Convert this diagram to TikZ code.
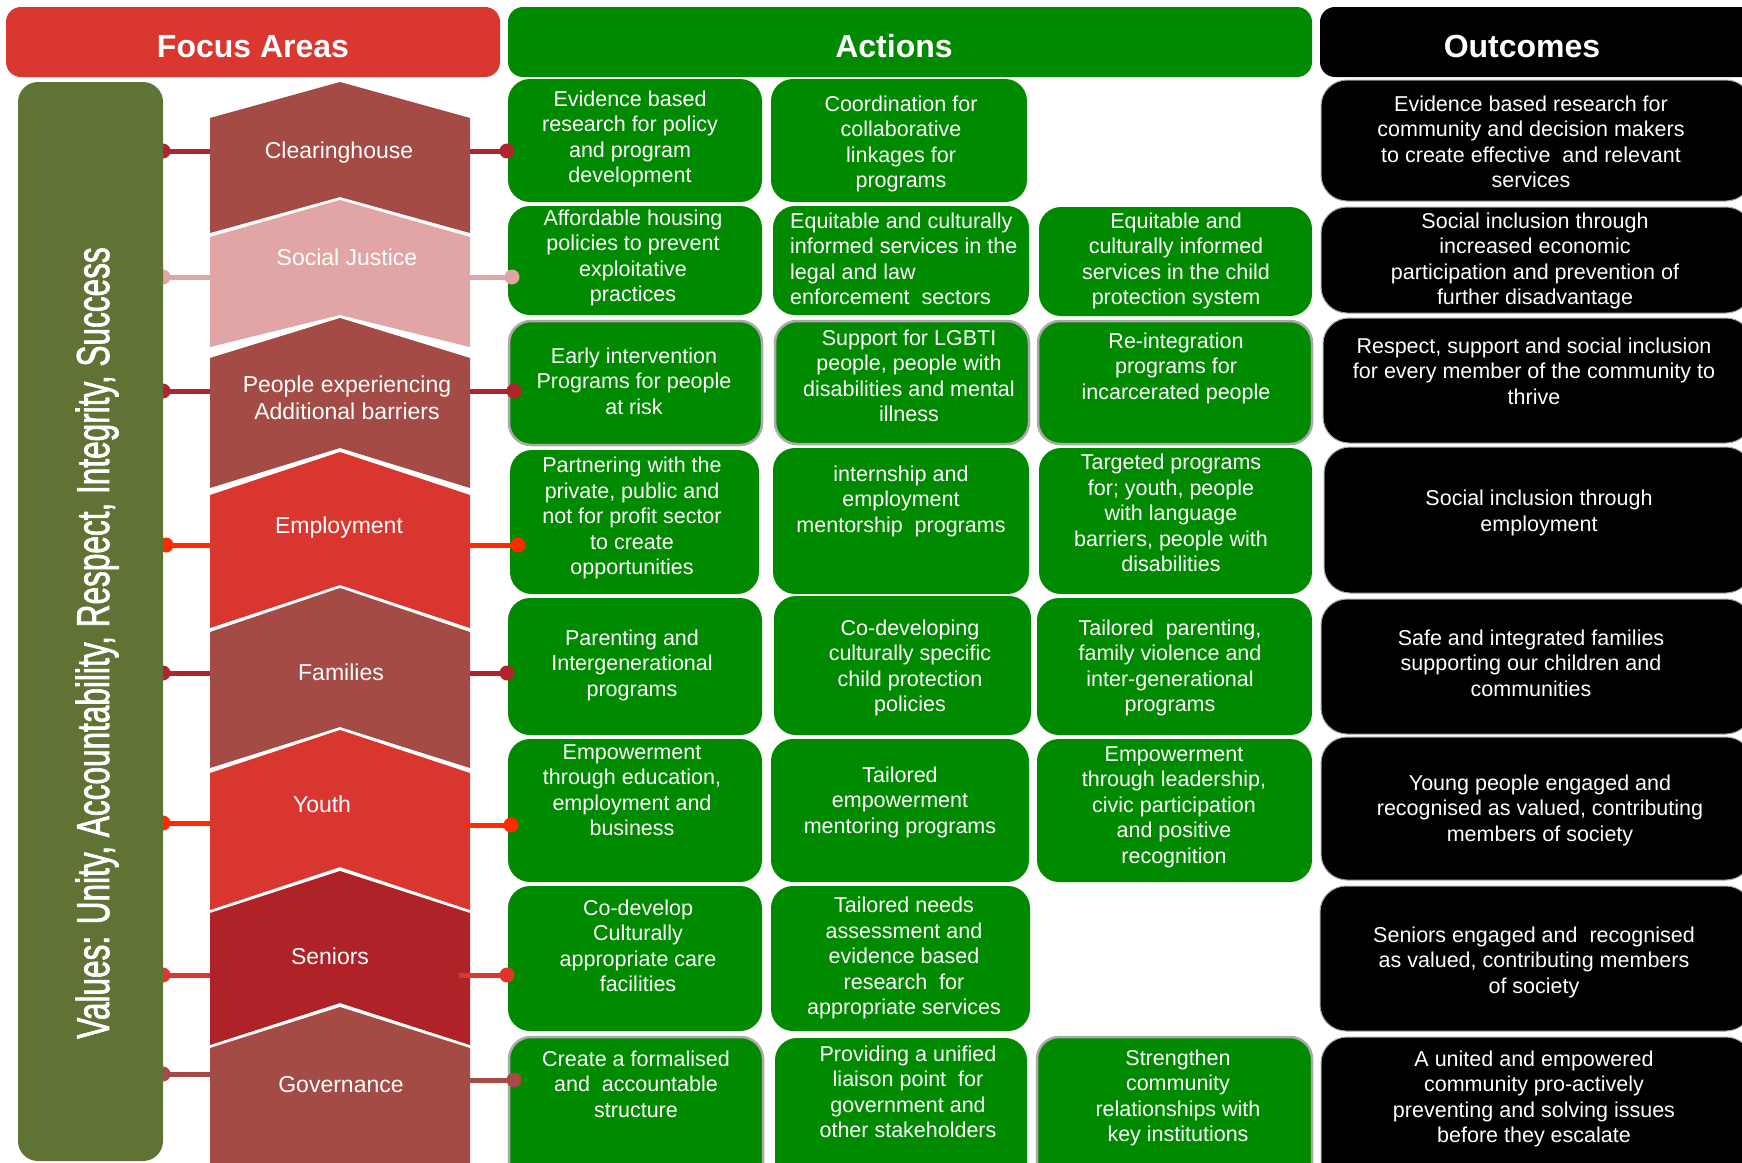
\documentclass[tikz,border=0pt]{standalone}
\usepackage{fontspec}
\setmainfont{Liberation Sans}
\newfontfamily\valfont[FakeBold=2]{Liberation Sans}
\usepackage{graphicx}
\usetikzlibrary{fit}
\definecolor{hred}{RGB}{218,55,48}
\definecolor{agreen}{RGB}{0,138,0}
\definecolor{olive}{RGB}{95,115,52}
\definecolor{chbrown}{RGB}{164,75,69}
\definecolor{chpink}{RGB}{224,165,164}
\definecolor{chred}{RGB}{218,54,48}
\definecolor{chsen}{RGB}{175,34,40}
\definecolor{lndark}{RGB}{176,37,45}
\definecolor{lnbright}{RGB}{255,42,0}
\definecolor{lnsen}{RGB}{224,53,47}
\definecolor{bordergray}{RGB}{170,170,170}
\tikzset{
  hdrbox/.style={rounded corners=15pt, inner sep=0pt},
  hdrtxt/.style={text=white, font=\fontsize{32}{32}\selectfont\bfseries, anchor=base, inner sep=0pt},
  actbox/.style={fill=agreen, rounded corners=22pt, inner sep=0pt},
  actgray/.style={actbox, draw=bordergray, line width=2.5pt},
  outbox/.style={fill=black, draw=black!35, line width=1pt, rounded corners=26pt, inner sep=0pt},
  txt/.style={text=white, align=center, font=\fontsize{21.5}{25.5}\selectfont, inner sep=0pt},
  focustxt/.style={text=white, align=center, font=\fontsize{23}{27}\selectfont, inner sep=0pt},
  conn/.style={line width=5pt},
}
\newcommand\chev[5]{\fill[#1] (210,#3) -- (340,#2) -- (470,#3) -- (470,#5) -- (340,#4) -- (210,#5) -- cycle;}
\begin{document}
\begin{tikzpicture}[x=1pt,y=-1pt]
\useasboundingbox (0,0) rectangle (1742,1162);
\clip (0,0) rectangle (1742,1162);

% left connector segments (behind bar and chevrons)
\foreach \i/\yl/\xl/\col in {1/151/163/lndark,2/277/163/chpink,3/391/163/lndark,4/545/166/lnbright,5/673/163/lndark,6/823/163/lnbright,7/975/163/lnsen,8/1074/163/chbrown}{
  \coordinate (lA\i) at (\xl,\yl);
  \coordinate (lB\i) at (215,\yl);
  \draw[conn, color=\col] (lA\i) -- (lB\i);
  \fill[color=\col] (lA\i) circle (7.5pt);
}

% values bar
\node[fill=olive, rounded corners=20pt, inner sep=0pt, fit={(18,82) (163,1161)}] (valbar) {};
\node[rotate=90, anchor=base, text=white, inner sep=0pt] (values) at (109,643)
  {\scalebox{0.686}[1]{\valfont\fontsize{46}{46}\selectfont Values: Unity, Accountability, Respect, Integrity, Success}};

% chevrons
\chev{chbrown}{82}{118}{197}{233}
\chev{chpink}{200}{237}{315}{347}
\chev{chbrown}{318}{358}{448}{488}
\chev{chred}{452}{495}{585}{628}
\chev{chbrown}{588}{632}{727}{768}
\chev{chred}{730}{773}{867}{910}
\chev{chsen}{871}{913}{1003}{1045}
\chev{chbrown}{1007}{1048}{1200}{1200}

\node[focustxt] (f1) at (339,153) {Clearinghouse};
\node[focustxt] (f2) at (347,257) {Social Justice};
\node[focustxt] (f3) at (347,398) {People experiencing\\Additional barriers};
\node[focustxt] (f4) at (339,528) {Employment};
\node[focustxt] (f5) at (341,672) {Families};
\node[focustxt] (f6) at (322,804) {Youth};
\node[focustxt] (f7) at (330,956) {Seniors};
\node[focustxt] (f8) at (341,1085) {Governance};

% headers
\node[hdrbox, fill=hred, fit={(6,7) (500,77)}] (hfocus) {};
\node[hdrtxt] (hfocust) at (253,57) {Focus Areas};
\node[hdrbox, fill=agreen, fit={(508,7) (1312,77)}] (hact) {};
\node[hdrtxt] (hactt) at (894,57) {Actions};
\node[hdrbox, fill=black, fit={(1320,7) (1760,77)}] (hout) {};
\node[hdrtxt] (houtt) at (1522,57) {Outcomes};

% action boxes
\node[actbox, fit={(508,79) (762,202)}] (r1c1) {};
\node[actbox, fit={(771,79) (1027,202)}] (r1c2) {};
\node[actbox, fit={(508,206) (762,315)}] (r2c1) {};
\node[actbox, fit={(773,206) (1029,315)}] (r2c2) {};
\node[actbox, fit={(1039,207) (1312,316)}] (r2c3) {};
\node[actgray, fit={(509,321) (762,445)}] (r3c1) {};
\node[actgray, fit={(775,321) (1029,444)}] (r3c2) {};
\node[actgray, fit={(1038,321) (1312,444)}] (r3c3) {};
\node[actbox, fit={(510,450) (759,594)}] (r4c1) {};
\node[actbox, fit={(773,448) (1029,594)}] (r4c2) {};
\node[actbox, fit={(1039,448) (1312,594)}] (r4c3) {};
\node[actbox, fit={(508,598) (762,735)}] (r5c1) {};
\node[actbox, fit={(774,596) (1031,735)}] (r5c2) {};
\node[actbox, fit={(1037,598) (1312,735)}] (r5c3) {};
\node[actbox, fit={(508,739) (762,882)}] (r6c1) {};
\node[actbox, fit={(771,739) (1029,882)}] (r6c2) {};
\node[actbox, fit={(1037,739) (1312,882)}] (r6c3) {};
\node[actbox, fit={(508,886) (762,1031)}] (r7c1) {};
\node[actbox, fit={(771,886) (1030,1031)}] (r7c2) {};
\node[actgray, fit={(509,1037) (763,1190)}] (r8c1) {};
\node[actbox, fit={(775,1038) (1027,1190)}] (r8c2) {};
\node[actgray, fit={(1037,1037) (1312,1190)}] (r8c3) {};

% outcome boxes
\node[outbox, fit={(1321,80) (1752,201)}] (o1) {};
\node[outbox, fit={(1321,207) (1752,313)}] (o2) {};
\node[outbox, fit={(1323,318) (1752,443)}] (o3) {};
\node[outbox, fit={(1324,447) (1752,593)}] (o4) {};
\node[outbox, fit={(1321,599) (1752,734)}] (o5) {};
\node[outbox, fit={(1321,737) (1752,880)}] (o6) {};
\node[outbox, fit={(1320,886) (1752,1031)}] (o7) {};
\node[outbox, fit={(1321,1037) (1752,1190)}] (o8) {};

% action texts
\node[txt] (t11) at (630,139) {Evidence based\\research for policy\\and program\\development};
\node[txt] (t12) at (901,144) {Coordination for\\collaborative\\linkages for\\programs};
\node[txt] (t21) at (633,258) {Affordable housing\\policies to prevent\\exploitative\\practices};
\node[txt, align=left, anchor=west] (t22) at (790,259) {Equitable and culturally\\informed services in the\\legal and law\\enforcement\ \ sectors};
\node[txt] (t23) at (1176,261) {Equitable and\\culturally informed\\services in the child\\protection system};
\node[txt] (t31) at (634,381) {Early intervention\\Programs for people\\at risk};
\node[txt] (t32) at (909,376) {Support for LGBTI\\people, people with\\disabilities and mental\\illness};
\node[txt] (t33) at (1176,368) {Re-integration\\programs for\\incarcerated people};
\node[txt] (t41) at (632,518) {Partnering with the\\private, public and\\not for profit sector\\to create\\opportunities};
\node[txt] (t42) at (901,501) {internship and\\employment\\mentorship\ \ programs};
\node[txt] (t43) at (1171,513) {Targeted programs\\for; youth, people\\with language\\barriers, people with\\disabilities};
\node[txt] (t51) at (632,665) {Parenting and\\Intergenerational\\programs};
\node[txt] (t52) at (910,668) {Co-developing\\culturally specific\\child protection\\policies};
\node[txt] (t53) at (1170,668) {Tailored\ \ parenting,\\family violence and\\inter-generational\\programs};
\node[txt] (t61) at (632,790) {Empowerment\\through education,\\employment and\\business};
\node[txt] (t62) at (900,802) {Tailored\\empowerment\\mentoring programs};
\node[txt] (t63) at (1174,807) {Empowerment\\through leadership,\\civic participation\\and positive\\recognition};
\node[txt] (t71) at (638,946) {Co-develop\\Culturally\\appropriate care\\facilities};
\node[txt] (t72) at (904,958) {Tailored needs\\assessment and\\evidence based\\research\ \ for\\appropriate services};
\node[txt] (t81) at (636,1084) {Create a formalised\\and\ \ accountable\\structure};
\node[txt] (t82) at (908,1092) {Providing a unified\\liaison point\ \ for\\government and\\other stakeholders};
\node[txt] (t83) at (1178,1098) {Strengthen\\community\\relationships with\\key institutions};

% outcome texts
\node[txt] (to1) at (1531,142) {Evidence based research for\\community and decision makers\\to create effective\ \ and relevant\\services};
\node[txt] (to2) at (1535,261) {Social inclusion through\\increased economic\\participation and prevention of\\further disadvantage};
\node[txt] (to3) at (1534,371) {Respect, support and social inclusion\\for every member of the community to\\thrive};
\node[txt] (to4) at (1539,513) {Social inclusion through\\employment};
\node[txt] (to5) at (1531,663) {Safe and integrated families\\supporting our children and\\communities};
\node[txt] (to6) at (1540,810) {Young people engaged and\\recognised as valued, contributing\\members of society};
\node[txt] (to7) at (1534,962) {Seniors engaged and\ \ recognised\\as valued, contributing members\\of society};
\node[txt] (to8) at (1534,1099) {A united and empowered\\community pro-actively\\preventing and solving issues\\before they escalate};

% right connector segments (over chevrons and boxes)
\foreach \i/\yr/\xs/\xd/\col in {1/151/470/507/lndark,2/277/470/512/chpink,3/391/470/514/lndark,4/545/470/518/lnbright,5/673/470/507/lndark,6/825/463/511/lnbright,7/975/459/507/lnsen,8/1080/470/514/chbrown}{
  \coordinate (rA\i) at (\xs,\yr);
  \coordinate (rB\i) at (\xd,\yr);
  \draw[conn, color=\col] (rA\i) -- (rB\i);
  \fill[color=\col] (rB\i) circle (7.5pt);
}
\end{tikzpicture}
\end{document}
